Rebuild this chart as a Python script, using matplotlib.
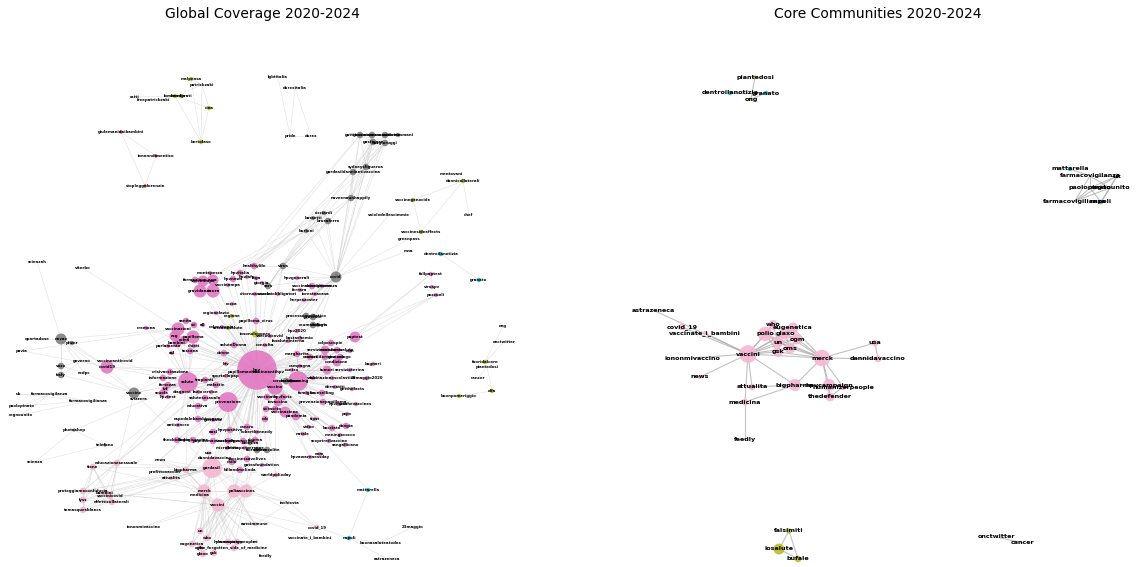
import matplotlib
matplotlib.use("Agg")
import matplotlib.pyplot as plt

W, H = 1142, 567

# ---------------- LEFT GRAPH: node layout (name, x, y, weight) ----------------
pink_nodes = [
    ("hpv", 257, 370, 18), ("papillomavirus", 244, 372, 3), ("vaccinoantihpv", 268, 372, 3),
    ("screening", 298, 381, 9), ("vaccino", 275, 387, 7), ("salute", 188, 382, 9),
    ("prevenzione", 228, 402, 9), ("vaccinazioni", 178, 329, 6), ("ecg", 175, 336, 5),
    ("roma", 184, 340, 4), ("papilloma", 193, 337, 6), ("bambini", 177, 343, 4),
    ("sanita", 186, 321, 3), ("sti", 194, 325, 3), ("all", 203, 325, 2), ("cremona", 146, 328, 2),
    ("parlamento", 168, 346, 2), ("chieti", 194, 346, 2), ("toscana", 190, 351, 3), ("asl", 172, 353, 2),
    ("healthylife", 254, 266, 3), ("hpvitalia", 240, 273, 3), ("montepesca", 210, 273, 2),
    ("hpvnews", 233, 279, 3), ("formazione", 195, 280, 3), ("vaccinimpa", 203, 281, 5),
    ("cura", 213, 280, 5), ("gravidanza", 200, 291, 6), ("sicura", 213, 291, 6),
    ("vaccinompa", 228, 285, 2), ("hpvinfo", 247, 277, 2), ("lega", 256, 278, 2), ("giorgia", 262, 283, 2),
    ("ritornoascuola", 255, 294, 2), ("rocca", 232, 304, 2), ("regionelazio", 216, 313, 2),
    ("papilloma_virus", 256, 321, 3), ("colposcopia", 222, 327, 2), ("vaccinocovid", 270, 336, 2),
    ("saluteDonna", 234, 345, 3), ("consulta", 265, 345, 2), ("donne", 224, 353, 3), ("hiv", 226, 364, 2),
    ("sportellopap", 226, 376, 2), ("crisivaccinazione", 170, 372, 3), ("informazione", 163, 378, 3),
    ("fortezza", 168, 385, 3), ("ivf", 165, 389, 3), ("scuola", 162, 393, 3), ("hpvtest", 168, 397, 2),
    ("diagnosi", 182, 392, 2), ("lazio", 198, 392, 2), ("trapianti", 205, 380, 3), ("malattie", 216, 385, 3),
    ("cervice", 211, 392, 2), ("salutesessuale", 205, 398, 3), ("educativa", 198, 406, 3),
    ("ospedalebambinogesu", 198, 419, 3), ("anticancro", 178, 425, 2), ("giornata", 213, 420, 2),
    ("ausl", 213, 432, 3), ("hpvpositivo", 230, 430, 3), ("cancro", 247, 427, 3), ("robertkennedy", 257, 432, 2),
    ("papillomavirushpv", 213, 441, 3), ("vaccinohpv", 228, 441, 3), ("hpvvaccine", 243, 441, 3),
    ("ricerca", 255, 440, 3), ("theobiologie", 177, 440, 3), ("biologicoscine", 193, 440, 3),
    ("dirittoperpersone", 245, 448, 2), ("microbiota", 227, 448, 2), ("child_", 232, 462, 3),
    ("vaccinessavelives", 247, 459, 3), ("gatesfoundation", 262, 465, 2), ("billandmelinda", 240, 470, 3),
    ("worldpolioday", 276, 475, 2), ("paptest", 355, 337, 5), ("colposcopie", 331, 343, 3),
    ("serviziosanitario", 325, 350, 4), ("ministerosalute", 337, 350, 3), ("ccm", 350, 351, 2),
    ("margherita", 297, 354, 3), ("reuteri", 310, 357, 3), ("corsodiformazione", 325, 357, 3),
    ("ginecologo", 340, 357, 3), ("campagna", 300, 366, 2), ("condizione", 337, 362, 4), ("contro", 292, 370, 2),
    ("tumori", 327, 370, 4), ("bagnari", 373, 364, 2), ("servizioterina", 350, 370, 2), ("lab", 313, 378, 2),
    ("vaccinazionescolastica", 332, 378, 2), ("28maggio2020", 367, 378, 2), ("dermatiti", 335, 387, 2),
    ("getthefacts", 352, 389, 2), ("famiglia", 307, 393, 2), ("counselling", 322, 393, 3), ("hpvmore", 338, 404, 2),
    ("prevenzionepapilloma", 323, 402, 3), ("yesthevaccines", 356, 404, 2), ("pcpv", 347, 414, 2),
    ("tipst", 315, 419, 2), ("video", 309, 427, 2), ("bocciato", 332, 428, 3), ("dongia", 346, 426, 3),
    ("natale", 303, 434, 2), ("meningococco", 340, 435, 2), ("scoprireilvaccino", 329, 441, 2),
    ("sangallicano", 345, 445, 2), ("eom", 320, 454, 2), ("hpvawarenessday", 310, 457, 2),
    ("vaccinato", 267, 397, 3), ("hpvfacts", 283, 397, 3), ("iovaccino", 278, 402, 4), ("eccito", 275, 409, 3),
    ("stii", 266, 409, 3), ("vaccinazione", 285, 412, 5), ("pandemia", 296, 416, 4), ("cdc", 265, 419, 3),
    ("hpv2020", 297, 331, 2), ("bastachemio", 300, 338, 2), ("lasaluteinterna", 288, 341, 2),
    ("herpeszoster", 304, 300, 2), ("iorestoacasa", 315, 294, 2), ("vacciniobbligatori", 278, 294, 2),
    ("hpvgenerali", 297, 278, 2), ("vaccinazionidonna", 312, 286, 3), ("lunaignoranza", 322, 286, 2),
    ("ferrara", 300, 290, 2), ("fullpaptest", 431, 274, 2), ("viruspv", 432, 287, 2), ("pozzuoli", 436, 295, 2),
    ("covid19", 107, 367, 6),
]

gray_nodes = [
    ("covid", 336, 277, 5), ("virus", 283, 266, 3), ("sars", 268, 286, 3),
    ("processomediatico", 306, 316, 3), ("proteste", 313, 317, 3), ("reumatologia", 313, 325, 3),
    ("dottori", 318, 325, 2), ("coronavirus", 286, 381, 3), ("lockdown", 291, 381, 2),
    ("fiorentina", 257, 450, 3), ("enterocolite", 267, 450, 3), ("bioetica", 250, 443, 2),
    ("gattinoamore", 360, 135, 3), ("giornatamemoria", 372, 135, 3), ("nessunodietro", 385, 135, 3),
    ("auroraimmani", 398, 135, 2), ("gastinger", 373, 142, 3), ("burgioruggi", 385, 143, 3),
    ("sydneysfigueroa", 366, 167, 3), ("gardasildanniantivaccina", 353, 172, 3),
    ("naveenaunhappily", 351, 198, 3), ("ricciardi", 324, 213, 2), ("bassetti", 313, 218, 2),
    ("brusaferro", 328, 221, 3), ("burioni", 306, 231, 2),
    ("novax", 61, 339, 5), ("pfizer", 72, 343, 2), ("vaxx", 61, 366, 3), ("italy", 61, 375, 3),
    ("vaccine", 134, 393, 5),
]

plain_nodes = [
    ("lgbtitalia", 278, 77, 0), ("durexitalia", 295, 88, 0), ("pride", 290, 136, 0), ("durex", 311, 136, 0),
    ("ratti", 134, 97, 0), ("freepatrickzaki", 154, 100, 0), ("patrickzaki", 202, 85, 0),
    ("chef", 469, 215, 0), ("vaiolodellescimmie", 389, 215, 0), ("greenpass", 409, 239, 0), ("mna", 408, 251, 0),
    ("ong", 503, 326, 0), ("onctwitter", 504, 342, 0), ("piantedosi", 487, 367, 0), ("cancer", 478, 378, 0),
    ("scienzah", 37, 262, 0), ("viterbo", 83, 268, 0), ("quartadose", 37, 339, 0), ("pavia", 22, 351, 0),
    ("governo", 82, 361, 0), ("vaccinoanticovid", 115, 361, 0), ("ecdpc", 84, 373, 0), ("svizzera", 139, 399, 0),
    ("uk", 18, 394, 0), ("farmacovigilanza", 50, 394, 0), ("farmacovigilianza", 88, 401, 0),
    ("paolopinato", 22, 406, 0), ("regnounito", 21, 415, 0), ("scienza", 35, 462, 0),
    ("mentovani", 451, 174, 0),
]

yellow_nodes = [
    ("malpensa", 191, 79, 2), ("lombardia", 175, 96, 2), ("immigrati", 181, 96, 2), ("cina", 209, 108, 2),
    ("bertolaso", 201, 142, 2), ("regione", 232, 316, 2), ("toscanasalute", 228, 328, 2),
    ("iosonoleggero", 255, 334, 3), ("fuoridalcoro", 485, 362, 2), ("olfa", 492, 391, 2),
    ("buonpomeriggio", 459, 396, 2),
]
olive_nodes = [
    ("dannicollaterali", 463, 181, 2), ("vaccinegenocide", 413, 200, 2), ("vaccinesideeffects", 421, 232, 2),
]
teal_nodes = [
    ("dentroilanotizia", 441, 254, 2), ("granato", 479, 280, 2), ("mattarella", 368, 490, 2), ("napoli", 349, 538, 2),
]
red_nodes = [
    ("giulemanidaibambini", 121, 132, 1.5), ("iononndimentico", 156, 156, 1.5), ("stopleggelorenzin", 145, 186, 1.5),
]
purple_nodes = [("photoshop", 74, 430, 1.5), ("telefono", 105, 445, 1.5)]

lightpink_nodes = [
    ("gardasil", 212, 468, 9), ("bigpharma", 186, 470, 3), ("profittovaccini", 165, 472, 1),
    ("attualita", 171, 478, 2), ("merck", 204, 491, 6), ("medicina", 200, 495, 1), ("polio", 234, 491, 6),
    ("vaccines", 246, 491, 6), ("vaccini", 218, 505, 6), ("inchiesta", 290, 503, 0), ("autoimmune", 255, 524, 2),
    ("covid_19", 317, 527, 2), ("vaccinate_i_bambini", 310, 537, 0), ("iononmivaccino", 144, 527, 0),
    ("un", 200, 531, 3), ("who", 207, 538, 3), ("eugenetica", 192, 544, 3), ("ogm", 200, 548, 3),
    ("glaxo", 203, 554, 3), ("gsk", 214, 553, 3), ("hpvcampaign", 228, 542, 3), ("humanizerpeople", 237, 542, 3),
    ("the_forgotten_side_of_medicine", 234, 548, 3), ("mi", 255, 542, 0), ("feedly", 266, 556, 0),
    ("news", 160, 460, 0), ("astrazeneca", 387, 559, 0), ("buonasaluteatodos", 380, 543, 0),
    ("23maggio", 413, 527, 0), ("usa", 209, 453, 2), ("dannidavaccino", 215, 458, 2),
    ("tione", 93, 467, 3), ("educazionesessuale", 117, 463, 3), ("proteggiamoconfiducia", 83, 491, 3),
    ("lyss", 83, 500, 3), ("bambini_", 105, 493, 3), ("vaccinicovid", 110, 496, 3),
    ("effetticollaterali", 112, 502, 3), ("tomasquesblancs", 83, 510, 3),
]

# ---------------- LEFT GRAPH: edges (source: targets) ----------------
left_edges = {
    "hpv": "papillomavirus vaccinoantihpv screening vaccino salute prevenzione vaccinazioni ecg roma papilloma "
           "bambini sanita sti all parlamento chieti toscana asl healthylife hpvitalia montepesca hpvnews formazione "
           "vaccinimpa cura gravidanza sicura vaccinompa hpvinfo lega giorgia ritornoascuola rocca regionelazio "
           "papilloma_virus colposcopia vaccinocovid saluteDonna consulta donne hiv sportellopap crisivaccinazione "
           "informazione fortezza ivf scuola hpvtest diagnosi lazio trapianti malattie cervice salutesessuale educativa "
           "ospedalebambinogesu anticancro giornata ausl hpvpositivo cancro robertkennedy papillomavirushpv vaccinohpv "
           "hpvvaccine ricerca theobiologie biologicoscine dirittoperpersone microbiota child_ vaccinessavelives "
           "gatesfoundation billandmelinda worldpolioday paptest colposcopie serviziosanitario ministerosalute ccm "
           "margherita reuteri corsodiformazione ginecologo campagna condizione contro tumori bagnari servizioterina lab "
           "vaccinazionescolastica 28maggio2020 dermatiti getthefacts famiglia counselling hpvmore prevenzionepapilloma "
           "yesthevaccines pcpv tipst video bocciato dongia natale meningococco scoprireilvaccino sangallicano eom "
           "hpvawarenessday vaccinato hpvfacts iovaccino eccito stii vaccinazione pandemia cdc hpv2020 bastachemio "
           "lasaluteinterna herpeszoster iorestoacasa vacciniobbligatori hpvgenerali vaccinazionidonna lunaignoranza "
           "ferrara pozzuoli covid19 vaccine gardasil covid virus sars processomediatico proteste reumatologia "
           "coronavirus lockdown fiorentina enterocolite bioetica regione toscanasalute iosonoleggero cremona "
           "bigpharma merck polio vaccines usa dannidavaccino news mattarella",
    "salute": "vaccinazioni ecg roma papilloma bambini crisivaccinazione informazione fortezza ivf scuola hpvtest "
              "diagnosi lazio trapianti malattie cervice salutesessuale prevenzione covid19 vaccine gardasil cremona "
              "parlamento chieti toscana asl theobiologie ospedalebambinogesu anticancro vaccinoanticovid svizzera "
              "donne hiv sportellopap bigpharma",
    "screening": "paptest colposcopie serviziosanitario ministerosalute ccm margherita reuteri corsodiformazione "
                 "ginecologo campagna condizione contro tumori bagnari servizioterina lab vaccinazionescolastica "
                 "28maggio2020 dermatiti getthefacts famiglia counselling hpvmore prevenzionepapilloma yesthevaccines "
                 "vaccino pozzuoli fullpaptest hpv2020 bastachemio coronavirus lockdown covid",
    "vaccino": "pcpv tipst video bocciato dongia natale meningococco scoprireilvaccino sangallicano eom "
               "hpvawarenessday vaccinato hpvfacts iovaccino eccito stii vaccinazione pandemia cdc gardasil covid "
               "prevenzione polio vaccines worldpolioday",
    "prevenzione": "ospedalebambinogesu anticancro giornata ausl hpvpositivo cancro robertkennedy papillomavirushpv "
                   "vaccinohpv hpvvaccine ricerca theobiologie biologicoscine microbiota dirittoperpersone "
                   "salutesessuale educativa gardasil child_ news bigpharma",
    "gardasil": "bigpharma profittovaccini attualita merck medicina polio vaccines vaccini child_ vaccinessavelives "
                "gatesfoundation billandmelinda worldpolioday usa dannidavaccino news tione educazionesessuale "
                "proteggiamoconfiducia lyss bambini_ vaccinicovid effetticollaterali tomasquesblancs un who eugenetica "
                "inchiesta autoimmune covid_19 vaccine",
    "vaccini": "un who eugenetica ogm glaxo gsk hpvcampaign humanizerpeople the_forgotten_side_of_medicine autoimmune "
               "covid_19 iononmivaccino merck polio vaccines medicina attualita bigpharma mi vaccinate_i_bambini "
               "feedly news",
    "merck": "polio vaccines un who ogm eugenetica usa dannidavaccino bigpharma hpvcampaign humanizerpeople glaxo gsk "
             "medicina attualita child_ billandmelinda",
    "polio": "vaccines un who glaxo gsk ogm eugenetica autoimmune inchiesta gatesfoundation billandmelinda child_",
    "vaccines": "un who ogm glaxo gsk hpvcampaign the_forgotten_side_of_medicine inchiesta worldpolioday",
    "bigpharma": "attualita profittovaccini medicina news merck proteggiamoconfiducia bambini_",
    "covid": "gattinoamore giornatamemoria nessunodietro gastinger burgioruggi sydneysfigueroa "
             "gardasildanniantivaccina naveenaunhappily ricciardi bassetti brusaferro burioni virus sars "
             "vaiolodellescimmie greenpass mna processomediatico proteste vaccinazionidonna lunaignoranza "
             "iorestoacasa tione educazionesessuale proteggiamoconfiducia hpvgenerali herpeszoster",
    "gattinoamore": "giornatamemoria gastinger burgioruggi sydneysfigueroa naveenaunhappily healthylife hpvitalia",
    "giornatamemoria": "nessunodietro gastinger burgioruggi sydneysfigueroa gardasildanniantivaccina naveenaunhappily",
    "nessunodietro": "auroraimmani gastinger burgioruggi sydneysfigueroa gardasildanniantivaccina",
    "gastinger": "burgioruggi sydneysfigueroa gardasildanniantivaccina naveenaunhappily sars",
    "burgioruggi": "sydneysfigueroa gardasildanniantivaccina naveenaunhappily virus",
    "sydneysfigueroa": "gardasildanniantivaccina naveenaunhappily healthylife",
    "gardasildanniantivaccina": "naveenaunhappily hpvinfo",
    "naveenaunhappily": "healthylife sars virus",
    "ricciardi": "bassetti brusaferro burioni vaccinimpa virus",
    "bassetti": "brusaferro burioni sars hpvitalia",
    "brusaferro": "burioni virus",
    "burioni": "vaccinimpa gravidanza sars",
    "virus": "sars healthylife vacciniobbligatori",
    "novax": "scienzah pfizer quartadose vaxx italy governo covid19 vaccine ecdpc vaccinazioni",
    "vaxx": "italy governo ecdpc",
    "italy": "vaccine governo",
    "covid19": "governo vaccinoanticovid vaccinazioni ecg crisivaccinazione vaccine pfizer pavia",
    "vaccine": "svizzera ecdpc informazione vaccinicovid",
    "viterbo": "vaccinazioni",
    "pavia": "vaccinazioni",
    "farmacovigilanza": "uk paolopinato regnounito farmacovigilianza",
    "farmacovigilianza": "uk paolopinato regnounito",
    "photoshop": "scienza telefono salute",
    "telefono": "scienza",
    "tione": "educazionesessuale proteggiamoconfiducia lyss bambini_ vaccinicovid effetticollaterali tomasquesblancs merck",
    "educazionesessuale": "proteggiamoconfiducia lyss bambini_ vaccinicovid effetticollaterali salute",
    "proteggiamoconfiducia": "lyss bambini_ vaccinicovid effetticollaterali tomasquesblancs vaccini",
    "lyss": "bambini_ vaccinicovid effetticollaterali tomasquesblancs",
    "bambini_": "vaccinicovid effetticollaterali tomasquesblancs vaccini",
    "vaccinicovid": "effetticollaterali tomasquesblancs merck",
    "effetticollaterali": "tomasquesblancs",
    "malpensa": "patrickzaki bertolaso",
    "patrickzaki": "lombardia cina bertolaso",
    "lombardia": "freepatrickzaki bertolaso cina immigrati ratti",
    "cina": "bertolaso",
    "giulemanidaibambini": "iononndimentico stopleggelorenzin",
    "iononndimentico": "stopleggelorenzin",
    "lgbtitalia": "pride",
    "durexitalia": "pride durex",
    "pride": "durex",
    "mentovani": "dannicollaterali",
    "dannicollaterali": "vaccinegenocide chef vaccinesideeffects",
    "vaccinegenocide": "vaccinesideeffects",
    "dentroilanotizia": "granato",
    "fullpaptest": "viruspv paptest",
    "pozzuoli": "paptest",
    "ong": "fuoridalcoro",
    "onctwitter": "fuoridalcoro",
    "fuoridalcoro": "piantedosi",
    "piantedosi": "cancer olfa",
    "olfa": "buonpomeriggio",
    "mattarella": "napoli",
    "napoli": "astrazeneca covid_19 buonasaluteatodos",
    "buonasaluteatodos": "23maggio",
    "covid_19": "inchiesta vaccinate_i_bambini",
    "iononmivaccino": "polio",
    "autoimmune": "polio inchiesta",
}

# ---------------- RIGHT GRAPH ----------------
right_pink = [
    ("astrazeneca", 653, 310, 0.5), ("covid_19", 682, 327, 3), ("vaccinate_i_bambini", 705, 333, 2),
    ("vaccini", 748, 354, 8), ("iononmivaccino", 692, 358, 1), ("news", 700, 377, 2), ("who", 773, 325, 4.5),
    ("polio", 765, 334, 6.5), ("eugenetica", 793, 328, 5), ("glaxo", 785, 334, 5), ("un", 778, 342, 5),
    ("ogm", 797, 339, 5), ("oms", 790, 348, 5), ("gsk", 778, 352, 4.5), ("merck", 822, 358, 7.5),
    ("usa", 875, 343, 3), ("dannidavaccino", 878, 359, 3), ("bigpharma", 795, 385, 5.5), ("attualita", 752, 387, 3),
    ("hpvcampaign", 829, 385, 5.5), ("humanizerpeople", 843, 387, 3), ("thedefender", 830, 397, 4),
    ("medicina", 745, 402, 3), ("feedly", 745, 439, 1),
]
right_yellow = [("piantedosi", 755, 77, 1.5), ("ong", 751, 99, 1.5),
                ("falsimiti", 789, 531, 2.5), ("iosalute", 779, 549, 5), ("bufale", 798, 559, 3)]
right_teal = [("dentroilanotizia", 730, 93, 2), ("granato", 766, 93, 2),
              ("mattarella", 1070, 169, 2), ("napoli", 1101, 202, 2)]
right_light = [("farmacovigilanza", 1090, 176, 1), ("uk", 1117, 176, 2.5), ("paolopinato", 1090, 188, 1.5),
               ("regnounito", 1110, 188, 1.5), ("farmacovigilianza", 1075, 201, 1),
               ("onctwitter", 997, 537, 0.5), ("cancer", 1023, 543, 0.5)]

right_edges = {
    "astrazeneca": "vaccini",
    "covid_19": "vaccini",
    "vaccinate_i_bambini": "vaccini",
    "iononmivaccino": "vaccini",
    "news": "vaccini",
    "vaccini": "who polio un glaxo oms gsk ogm eugenetica merck bigpharma attualita medicina",
    "attualita": "bigpharma",
    "medicina": "bigpharma feedly",
    "bigpharma": "merck hpvcampaign",
    "merck": "usa dannidavaccino eugenetica polio glaxo un oms ogm gsk hpvcampaign thedefender humanizerpeople",
    "usa": "dannidavaccino",
    "hpvcampaign": "thedefender humanizerpeople",
    "thedefender": "humanizerpeople",
    "polio": "glaxo un who oms gsk",
    "who": "un glaxo",
    "eugenetica": "ogm glaxo",
    "glaxo": "un ogm oms",
    "un": "oms gsk ogm",
    "oms": "ogm gsk",
    "piantedosi": "ong",
    "ong": "granato",
    "dentroilanotizia": "granato",
    "mattarella": "farmacovigilanza",
    "farmacovigilanza": "uk paolopinato regnounito farmacovigilianza",
    "uk": "paolopinato regnounito farmacovigilianza napoli",
    "paolopinato": "regnounito farmacovigilianza napoli",
    "regnounito": "farmacovigilianza napoli",
    "falsimiti": "iosalute bufale",
    "iosalute": "bufale",
    "onctwitter": "cancer",
}

# ---------------- drawing ----------------
fig = plt.figure(figsize=(W / 100, H / 100), dpi=100)
ax1 = fig.add_axes([0, 0, 524 / W, 1])
ax2 = fig.add_axes([634 / W, 0, 488 / W, 1])
ax1.set_xlim(0, 524); ax1.set_ylim(H, 0)
ax2.set_xlim(634, 1122); ax2.set_ylim(H, 0)
for ax in (ax1, ax2):
    ax.axis("off")

ax1.set_title("Global Coverage 2020-2024", fontsize=10, y=1 - 18 / H, pad=0)
ax2.set_title("Core Communities 2020-2024", fontsize=10, y=1 - 18 / H, pad=0)


def draw(ax, groups, edges, fsize, ecol, elw, ealpha, nalpha):
    pos = {}
    for nodes, _ in groups:
        for n, x, y, w in nodes:
            pos[n] = (x, y)
    for src, tgts in edges.items():
        for t in tgts.split():
            if src in pos and t in pos:
                (x0, y0), (x1, y1) = pos[src], pos[t]
                ax.plot([x0, x1], [y0, y1], color=ecol, lw=elw, alpha=ealpha, zorder=1,
                        solid_capstyle="butt", clip_on=False)
    for nodes, col in groups:
        xs = [x for _, x, _, _ in nodes]
        ys = [y for _, _, y, _ in nodes]
        ss = [(1.44 * max(w, 0.4) * 1.1) ** 2 for *_, w in nodes]
        ax.scatter(xs, ys, s=ss, c=col, alpha=nalpha, edgecolors="none", zorder=2, clip_on=False)
    for nodes, _ in groups:
        for n, x, y, w in nodes:
            ax.text(x, y, n.rstrip("_"), fontsize=fsize, fontweight="bold", ha="center", va="center",
                    color="black", zorder=3, clip_on=False)


left_groups = [
    (pink_nodes, "#e377c2"), (gray_nodes, "#7f7f7f"), (plain_nodes, "#e5e5e5"),
    (yellow_nodes, "#bcbd22"), (olive_nodes, "#a6a63a"), (teal_nodes, "#17becf"),
    (red_nodes, "#d62728"), (purple_nodes, "#9467bd"), (lightpink_nodes, "#f7b6d2"),
]
draw(ax1, left_groups, left_edges, 2.8, "#c4c4c4", 0.4, 0.5, 0.9)

right_groups = [(right_pink, "#f7b6d2"), (right_yellow, "#bcbd22"), (right_teal, "#17becf"),
                (right_light, "#d0d0d0")]
draw(ax2, right_groups, right_edges, 4.6, "#a8a8a8", 0.8, 0.7, 0.9)

fig.savefig("out.png", dpi=100)
